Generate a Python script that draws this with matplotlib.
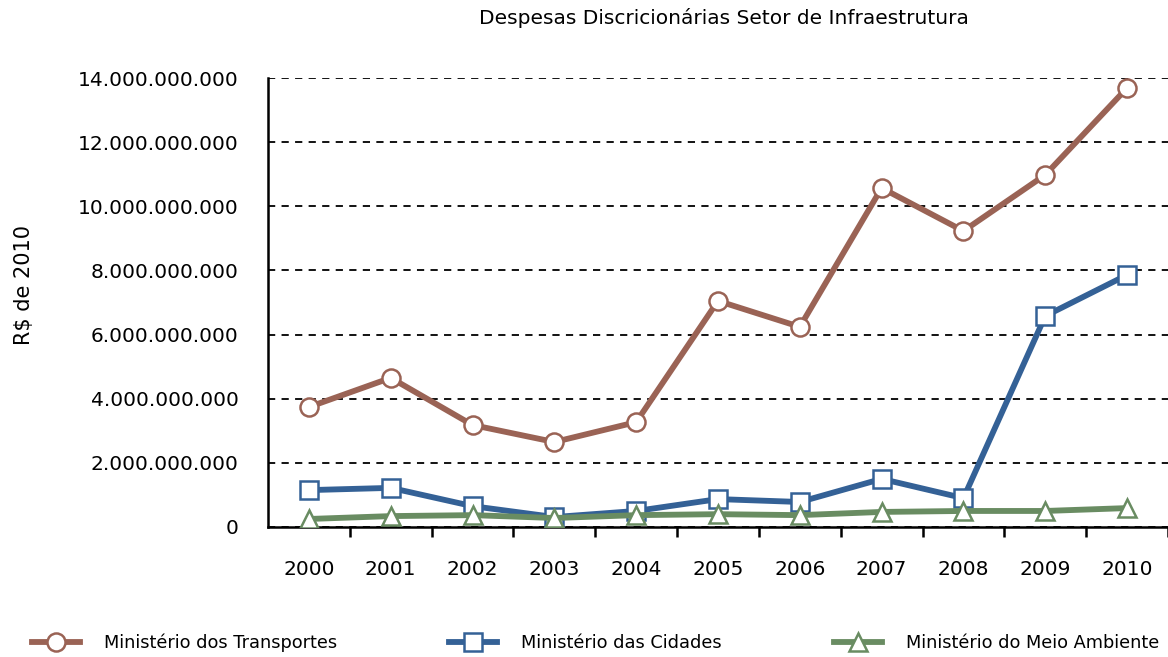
import matplotlib.pyplot as plt
from matplotlib.ticker import FuncFormatter, MultipleLocator

anos = [2000, 2001, 2002, 2003, 2004, 2005, 2006, 2007, 2008, 2009, 2010]
transportes = [3.74e9, 4.65e9, 3.18e9, 2.65e9, 3.27e9, 7.05e9, 6.24e9, 10.57e9, 9.23e9, 10.98e9, 13.69e9]
cidades = [1.15e9, 1.22e9, 0.65e9, 0.31e9, 0.50e9, 0.87e9, 0.78e9, 1.50e9, 0.90e9, 6.58e9, 7.86e9]
meio_ambiente = [0.25e9, 0.34e9, 0.37e9, 0.28e9, 0.37e9, 0.40e9, 0.37e9, 0.47e9, 0.50e9, 0.50e9, 0.59e9]

plt.rcParams['font.family'] = ['DejaVu Sans']

fig = plt.figure(figsize=(11.68, 6.57), dpi=100)
ax = fig.add_axes([268 / 1168, 1 - 527 / 657, 900 / 1168, (527 - 78) / 657])

x = list(range(len(anos)))
series = [
    (transportes, '#9a6355', 'o', 'Ministério dos Transportes'),
    (cidades, '#346196', 's', 'Ministério das Cidades'),
    (meio_ambiente, '#698c62', '^', 'Ministério do Meio Ambiente'),
]
for vals, cor, mk, nome in series:
    ax.plot(x, vals, color=cor, lw=4.2, marker=mk, markersize=13,
            markerfacecolor='white', markeredgecolor=cor, markeredgewidth=1.8,
            label=nome, zorder=3)

ax.set_xlim(-0.5, 10.5)
ax.set_ylim(0, 14e9)
ax.yaxis.set_major_locator(MultipleLocator(2e9))
ax.yaxis.set_major_formatter(FuncFormatter(lambda v, p: f'{v:,.0f}'.replace(',', '.')))
ax.set_xticks(x)
ax.set_xticklabels([str(a) for a in anos])
ax.set_xticks([i + 0.5 for i in range(len(anos))], minor=True)

ax.tick_params(axis='x', which='major', length=0, pad=24, labelsize=14.5)
ax.tick_params(axis='x', which='minor', length=7, width=1.8, direction='out')
ax.tick_params(axis='y', length=0, pad=21, labelsize=14.5)

ax.grid(axis='y', color='black', linestyle=(0, (4, 3.5)), linewidth=1.3)
ax.set_axisbelow(True)
for s in ['top', 'right']:
    ax.spines[s].set_visible(False)
for s in ['left', 'bottom']:
    ax.spines[s].set_linewidth(1.8)

ax.set_ylabel('R$ de 2010', fontsize=15)
ax.yaxis.set_label_coords(-0.26, 0.54)
fig.text(0.62, 0.972, 'Despesas Discricionárias Setor de Infraestrutura',
         ha='center', va='center', fontsize=14.5)

fig.legend(loc='center', bbox_to_anchor=(0.51, 0.022), ncol=3, frameon=False,
           fontsize=12.8, handlelength=2.7, handletextpad=1.35, columnspacing=6.3)

fig.savefig('out.png', dpi=100)
